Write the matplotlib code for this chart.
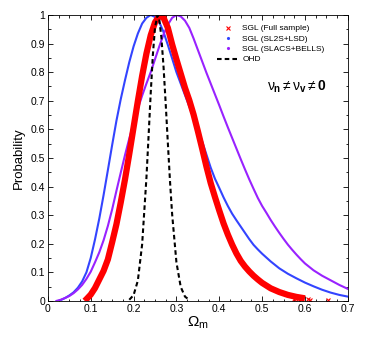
import matplotlib
matplotlib.use("Agg")
import matplotlib.pyplot as plt
from matplotlib.lines import Line2D
from matplotlib.ticker import MultipleLocator, FuncFormatter

plt.rcParams['font.family'] = ['Liberation Sans', 'DejaVu Sans']
plt.rcParams['mathtext.fontset'] = 'custom'
plt.rcParams['mathtext.rm'] = 'Liberation Sans'
plt.rcParams['mathtext.it'] = 'Liberation Sans'
plt.rcParams['mathtext.bf'] = 'Liberation Sans:bold'

# SGL full sample (red band)
om_full = [0.086, 0.09, 0.10, 0.11, 0.12, 0.13, 0.14, 0.15, 0.16, 0.17, 0.18, 0.19,
           0.20, 0.21, 0.22, 0.23, 0.24, 0.25, 0.26, 0.265, 0.27, 0.28, 0.29, 0.30,
           0.31, 0.32, 0.33, 0.34, 0.35, 0.36, 0.37, 0.38, 0.39, 0.40, 0.41, 0.42,
           0.43, 0.44, 0.45, 0.46, 0.47, 0.48, 0.49, 0.50, 0.52, 0.54, 0.56, 0.58, 0.60]
p_full = [0.0, 0.006, 0.022, 0.045, 0.075, 0.105, 0.145, 0.205, 0.268, 0.344, 0.425, 0.514,
          0.607, 0.699, 0.787, 0.865, 0.929, 0.974, 0.997, 1.0, 0.99, 0.955, 0.897, 0.845,
          0.795, 0.745, 0.702, 0.652, 0.594, 0.533, 0.47, 0.412, 0.363, 0.316, 0.271, 0.232,
          0.197, 0.166, 0.14, 0.12, 0.103, 0.088, 0.075, 0.063, 0.044, 0.031, 0.021, 0.014, 0.009]
om_full_tail = [0.575, 0.584, 0.590, 0.607, 0.612, 0.653]
p_full_tail = [0.008, 0.006, 0.005, 0.006, 0.004, 0.003]

# SGL (SL2S+LSD)
om_sl2s = [0.025, 0.03, 0.04, 0.05, 0.06, 0.07, 0.08, 0.09, 0.10, 0.11, 0.12, 0.13,
           0.14, 0.15, 0.16, 0.17, 0.18, 0.19, 0.20, 0.21, 0.22, 0.23, 0.24, 0.25,
           0.26, 0.27, 0.28, 0.29, 0.30, 0.31, 0.32, 0.33, 0.34, 0.35, 0.36, 0.37,
           0.38, 0.39, 0.40, 0.41, 0.42, 0.43, 0.44, 0.45, 0.46, 0.47, 0.48, 0.49,
           0.50, 0.52, 0.54, 0.56, 0.58, 0.60, 0.62, 0.64, 0.66, 0.68, 0.70]
p_sl2s = [0.0, 0.003, 0.01, 0.019, 0.03, 0.046, 0.068, 0.10, 0.15, 0.215, 0.288, 0.37,
          0.457, 0.545, 0.63, 0.705, 0.772, 0.835, 0.89, 0.935, 0.97, 0.99, 1.0, 0.993,
          0.975, 0.94, 0.895, 0.848, 0.80, 0.76, 0.72, 0.68, 0.64, 0.60, 0.558, 0.512,
          0.466, 0.427, 0.395, 0.362, 0.332, 0.305, 0.282, 0.26, 0.238, 0.216, 0.196, 0.18,
          0.165, 0.138, 0.114, 0.095, 0.079, 0.064, 0.051, 0.039, 0.029, 0.021, 0.015]

# SGL (SLACS+BELLS)
om_slacs = [0.02, 0.03, 0.04, 0.05, 0.06, 0.07, 0.08, 0.09, 0.10, 0.11, 0.12, 0.13,
            0.14, 0.15, 0.16, 0.17, 0.18, 0.19, 0.20, 0.21, 0.22, 0.23, 0.24, 0.25,
            0.26, 0.27, 0.28, 0.29, 0.30, 0.31, 0.32, 0.33, 0.34, 0.35, 0.36, 0.37,
            0.38, 0.39, 0.40, 0.41, 0.42, 0.43, 0.44, 0.45, 0.46, 0.47, 0.48, 0.49,
            0.50, 0.51, 0.52, 0.53, 0.54, 0.55, 0.56, 0.57, 0.58, 0.59, 0.60, 0.62,
            0.64, 0.66, 0.68, 0.70]
p_slacs = [0.0, 0.004, 0.01, 0.017, 0.027, 0.04, 0.056, 0.077, 0.102, 0.135, 0.17, 0.212,
           0.262, 0.32, 0.385, 0.448, 0.51, 0.568, 0.622, 0.672, 0.718, 0.76, 0.80, 0.845,
           0.89, 0.932, 0.966, 0.99, 1.0, 0.995, 0.98, 0.955, 0.918, 0.878, 0.838, 0.798,
           0.76, 0.722, 0.684, 0.645, 0.607, 0.57, 0.533, 0.496, 0.46, 0.425, 0.392, 0.36,
           0.332, 0.308, 0.283, 0.26, 0.238, 0.217, 0.197, 0.179, 0.162, 0.146, 0.131, 0.107,
           0.088, 0.072, 0.056, 0.042]

# OHD
om_ohd = [0.19, 0.20, 0.21, 0.22, 0.23, 0.235, 0.24, 0.245, 0.25, 0.256, 0.26, 0.265,
          0.27, 0.275, 0.28, 0.285, 0.29, 0.30, 0.31, 0.32, 0.33]
p_ohd = [0.004, 0.02, 0.071, 0.198, 0.43, 0.576, 0.726, 0.86, 0.956, 1.0, 0.984, 0.92,
         0.817, 0.689, 0.552, 0.419, 0.303, 0.135, 0.049, 0.015, 0.0035]

red = '#ff0000'
blue = '#3344ff'
purple = '#9922ff'
ohd_dash = (0, (2.2, 1.5))

fig = plt.figure(figsize=(3.74, 3.40), dpi=100)
ax = fig.add_axes([0.128, 0.115, 0.802, 0.841])

ax.plot(om_sl2s, p_sl2s, color=blue, lw=1.5)
ax.plot(om_slacs, p_slacs, color=purple, lw=1.5)
ax.plot(om_full, p_full, color=red, lw=4.5, solid_capstyle='butt')
ax.plot(om_full_tail, p_full_tail, 'x', color=red, ms=3, mew=0.8)
ax.plot(om_ohd, p_ohd, color='black', lw=1.5, ls=ohd_dash)

ax.set_xlim(0, 0.7)
ax.set_ylim(0, 1)
ax.xaxis.set_major_locator(MultipleLocator(0.1))
ax.xaxis.set_minor_locator(MultipleLocator(0.025))
ax.yaxis.set_major_locator(MultipleLocator(0.1))
ax.yaxis.set_minor_locator(MultipleLocator(0.05))
fmt = FuncFormatter(lambda v, p: '%g' % round(v, 2))
ax.xaxis.set_major_formatter(fmt)
ax.yaxis.set_major_formatter(fmt)
ax.tick_params(which='both', direction='in', top=True, right=True, labelsize=7.5, width=0.6)
ax.tick_params(which='major', length=3.5, pad=2)
ax.tick_params(which='minor', length=1.8)
for s in ax.spines.values():
    s.set_linewidth(0.6)

ax.set_xlabel(r'$\Omega_{\rm m}$', fontsize=11, labelpad=1)
ax.set_ylabel('Probability', fontsize=9.5, labelpad=4)

handles = [
    Line2D([], [], ls='none', marker='x', color=red, ms=3, mew=0.8),
    Line2D([], [], ls='none', marker='.', color=blue, ms=2.5),
    Line2D([], [], ls='none', marker='.', color=purple, ms=2.5),
    Line2D([], [], color='black', lw=1.5, ls=ohd_dash),
]
labels = ['SGL (Full sample)', 'SGL (SL2S+LSD)', 'SGL (SLACS+BELLS)', 'OHD']
ax.legend(handles, labels, loc='upper left', frameon=False, fontsize=6,
          handlelength=2.8, handletextpad=0.3, labelspacing=0.3,
          bbox_to_anchor=(0.557, 0.972), borderaxespad=0, borderpad=0.2)

ax.text(0.511, 0.735, r'$\nu_{\mathbf{n}}\neq\nu_{\mathbf{v}}\neq\mathbf{0}$', fontsize=10)

fig.savefig('out.png', dpi=100)
